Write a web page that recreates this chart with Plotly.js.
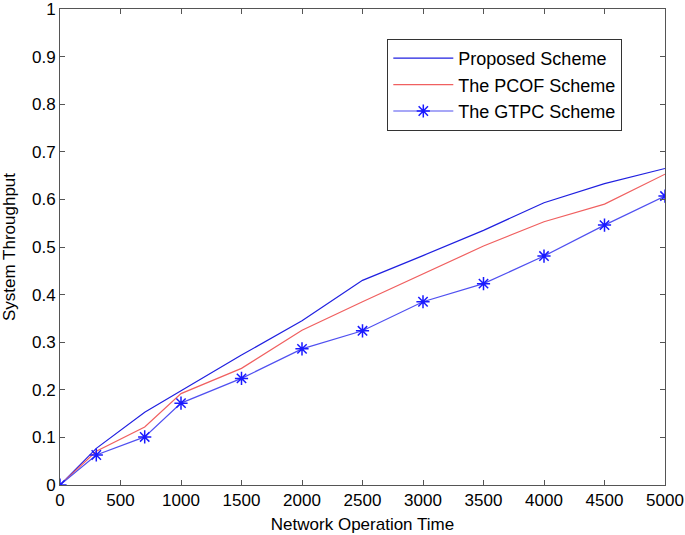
<!DOCTYPE html>
<html>
<head>
<meta charset="utf-8">
<script src="https://cdn.plot.ly/plotly-3.0.1.min.js"></script>
<style>
  body { margin: 0; background: #fff; }
  #chart { width: 685px; height: 535px; }
</style>
</head>
<body>
<div id="chart"></div>
<script>
// network operation time (x values)
const opTime = [0, 300, 700, 1000, 1500, 2000, 2500, 3000, 3500, 4000, 4500, 5000];

// system throughput for each scheme
const proposed = [0, 0.077, 0.153, 0.198, 0.273, 0.345, 0.43, 0.482, 0.535, 0.593, 0.633, 0.665];
const pcof = [0, 0.071, 0.122, 0.192, 0.245, 0.325, 0.385, 0.443, 0.502, 0.553, 0.59, 0.653];
const gtpc = [0, 0.063, 0.101, 0.172, 0.224, 0.286, 0.324, 0.385, 0.423, 0.481, 0.546, 0.607];

const xTicks = [0, 500, 1000, 1500, 2000, 2500, 3000, 3500, 4000, 4500, 5000];
const yTicks = [0, 0.1, 0.2, 0.3, 0.4, 0.5, 0.6, 0.7, 0.8, 0.9, 1];

const font = 'Liberation Sans, Arial, Helvetica, sans-serif';

const traces = [
  {
    x: opTime,
    y: proposed,
    name: 'Proposed Scheme',
    type: 'scatter',
    mode: 'lines',
    line: { color: '#2020e0', width: 1.2 },
  },
  {
    x: opTime,
    y: pcof,
    name: 'The PCOF Scheme',
    type: 'scatter',
    mode: 'lines',
    line: { color: '#f06060', width: 1.2 },
  },
  {
    x: opTime,
    y: gtpc,
    name: 'The GTPC Scheme',
    type: 'scatter',
    mode: 'lines+markers',
    line: { color: '#5050f0', width: 1.2 },
    marker: {
      symbol: 'asterisk-open',
      size: 11,
      color: '#1a1aff',
      line: { color: '#1a1aff', width: 1.5 },
    },
  },
];

const axisCommon = {
  showgrid: false,
  zeroline: false,
  showline: true,
  mirror: 'ticks',
  linecolor: '#555',
  linewidth: 1,
  ticks: 'inside',
  ticklen: 5,
  tickcolor: '#555',
  ticklabeloverflow: 'allow',
  tickfont: { family: font, size: 17, color: '#000' },
};

const layout = {
  width: 685,
  height: 535,
  margin: { l: 60, r: 20, t: 9, b: 50 },
  paper_bgcolor: '#fff',
  plot_bgcolor: '#fff',
  font: { family: font, color: '#000' },
  xaxis: Object.assign({}, axisCommon, {
    range: [0, 5000],
    tickvals: xTicks,
    ticktext: xTicks.map(String),
    title: { text: 'Network Operation Time', font: { family: font, size: 17 }, standoff: 8 },
  }),
  yaxis: Object.assign({}, axisCommon, {
    range: [0, 1],
    tickvals: yTicks,
    ticktext: yTicks.map(String),
    title: { text: 'System Throughput', font: { family: font, size: 17 }, standoff: 12 },
  }),
  showlegend: true,
  legend: {
    x: 0.541,
    y: 0.937,
    xanchor: 'left',
    yanchor: 'top',
    bgcolor: '#fff',
    bordercolor: '#333',
    borderwidth: 1,
    itemwidth: 60,
    font: { family: font, size: 18, color: '#000' },
    tracegroupgap: 0,
  },
};

Plotly.newPlot('chart', traces, layout, { displayModeBar: false, staticPlot: true });
</script>
</body>
</html>
